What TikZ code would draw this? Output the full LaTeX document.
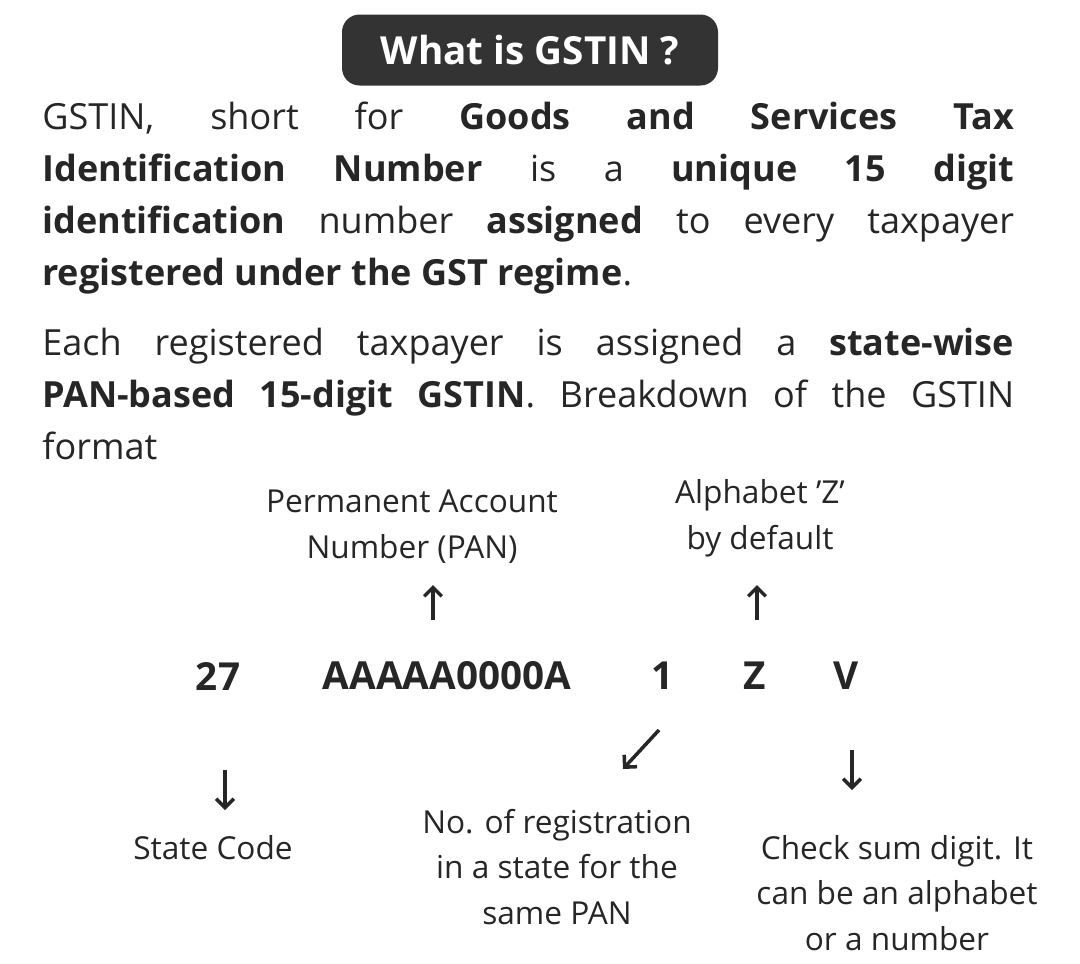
\documentclass[tikz,border=0pt]{standalone}
\usepackage{fontspec}
\setmainfont{Open Sans}
\usetikzlibrary{positioning,arrows.meta}
\begin{document}
\begin{tikzpicture}[x=0.02cm,y=-0.02cm]
		\tikzset{
			every node/.style={inner sep=0pt,text=black!85},
			para/.style={text width=19.44cm,align=justify,anchor=north west,font=\fontsize{20.5}{29.5}\selectfont},
			lbl/.style={align=center,font=\fontsize{18}{26}\selectfont},
			code/.style={font=\fontsize{22}{24}\selectfont\bfseries},
			ptr/.style={line width=2pt,black!85,-{Straight Barb[length=5pt,width=10pt]}}
		}
		\useasboundingbox (0,0) rectangle (1080,964);
		% title
		\node[fill=black!80,rounded corners=10pt,minimum width=376*0.02cm,minimum height=71*0.02cm,
			text=white,font=\fontsize{22}{24}\selectfont\bfseries] (title) at (530,50) {What is GSTIN ?};
		% text
		\node[para] (intro) at (42,102) {GSTIN, short for \textbf{Goods and Services Tax}\linebreak \textbf{Identification Number} is a \textbf{unique 15 digit}\linebreak \textbf{identification} number \textbf{assigned} to every taxpayer\linebreak \textbf{registered under the GST regime}.};
		\node[para] (each) at (42,328) {Each registered taxpayer is assigned a \textbf{state-wise}\linebreak \textbf{PAN-based 15-digit GSTIN}. Breakdown of the GSTIN\linebreak format};
		% the code
		\node[code] (state) at (218,676) {27};
		\node[code] (pan) at (447,676) {AAAAA0000A};
		\node[code] (reg) at (663,676) {1};
		\node[code] (zed) at (755,676) {Z};
		\node[code] (chk) at (846,676) {V};
		% labels
		\node[lbl] (panlbl) at (412,527) {Permanent Account\\Number (PAN)};
		\node[lbl] (zedlbl) at (760,518) {Alphabet 'Z'\\by default};
		\node[lbl] (statelbl) at (213,848) {State Code};
		\node[lbl] (reglbl) at (557,867) {No. of registration\\in a state for the\\same PAN};
		\node[lbl] (chklbl) at (897,893) {Check sum digit. It\\can be an alphabet\\or a number};
		% arrows
		\coordinate (a1) at (433,620); \coordinate (a2) at (433,585);
		\coordinate (b1) at (757,620); \coordinate (b2) at (757,585);
		\coordinate (c1) at (225,770); \coordinate (c2) at (225,810);
		\coordinate (d1) at (659,730); \coordinate (d2) at (623,769);
		\coordinate (e1) at (852,750); \coordinate (e2) at (852,790);
		\draw[ptr] (a1) -- (a2);
		\draw[ptr] (b1) -- (b2);
		\draw[ptr] (c1) -- (c2);
		\draw[ptr] (d1) -- (d2);
		\draw[ptr] (e1) -- (e2);
\end{tikzpicture}
\end{document}
